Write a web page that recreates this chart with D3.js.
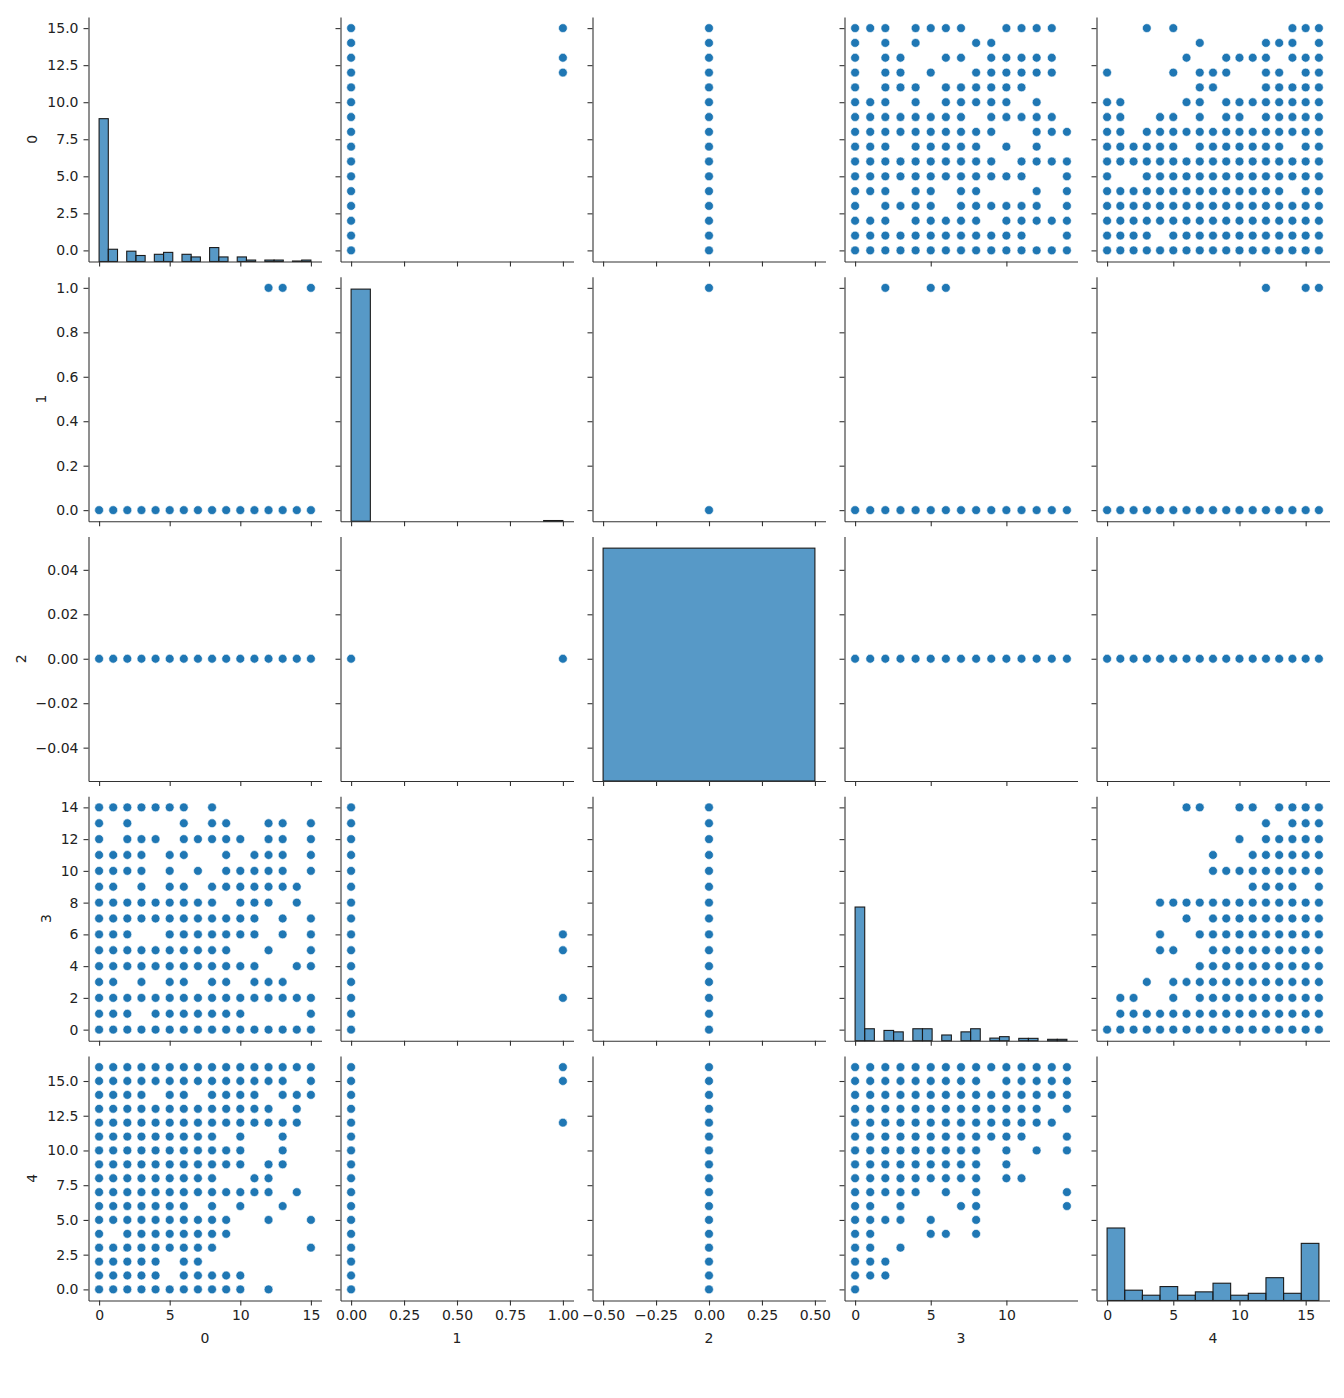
<!DOCTYPE html>
<html>
<head>
<meta charset="utf-8">
<script src="https://cdn.jsdelivr.net/npm/d3@7"></script>
<style>
  body { margin: 0; background: #fff; }
  text { font-family: "DejaVu Sans", sans-serif; }
</style>
</head>
<body>
<svg id="chart" width="1344" height="1398"></svg>
<script>
var varNames = ["0", "1", "2", "3", "4"];

// distinct levels that occur in each column
var v0Levels = [0, 1, 2, 3, 4, 5, 6, 7, 8, 9, 10, 11, 12, 13, 14, 15];
var v1Levels = [0, 1];
var v3Levels = [0, 1, 2, 3, 4, 5, 6, 7, 8, 9, 10, 11, 12, 13, 14];
var v4Levels = [0, 1, 2, 3, 4, 5, 6, 7, 8, 9, 10, 11, 12, 13, 14, 15, 16];

// the few rows where column 1 is 1
var v0WhereV1 = [12, 13, 15];
var v3WhereV1 = [2, 5, 6];
var v4WhereV1 = [12, 15, 16];

// column 3 level -> column 0 values seen with it
var pairs30 = [
  [14, [0, 1, 2, 3, 4, 5, 6, 8]],
  [13, [0, 2, 6, 8, 9, 12, 13, 15]],
  [12, [0, 2, 3, 4, 6, 7, 8, 9, 10, 12, 13, 15]],
  [11, [0, 1, 2, 3, 5, 6, 9, 11, 12, 13, 15]],
  [10, [0, 1, 2, 3, 5, 7, 9, 10, 11, 12, 13, 15]],
  [9, [0, 1, 3, 5, 6, 8, 9, 10, 11, 12, 13, 14]],
  [8, [0, 1, 2, 3, 4, 5, 6, 7, 8, 10, 11, 12, 14]],
  [7, [0, 1, 2, 3, 4, 5, 6, 7, 8, 9, 10, 11, 13, 15]],
  [6, [0, 1, 2, 5, 6, 7, 8, 9, 10, 11, 13, 15]],
  [5, [0, 1, 2, 3, 4, 5, 6, 7, 8, 9, 12, 15]],
  [4, [0, 1, 2, 3, 4, 5, 6, 7, 8, 9, 10, 11, 14, 15]],
  [3, [0, 1, 3, 5, 6, 8, 9, 11, 12, 13]],
  [2, [0, 1, 2, 3, 4, 5, 6, 7, 8, 9, 10, 11, 12, 13, 14, 15]],
  [1, [0, 1, 2, 4, 5, 6, 7, 8, 9, 10, 15]],
  [0, [0, 1, 2, 3, 4, 5, 6, 7, 8, 9, 10, 11, 12, 13, 14, 15]]
];

// column 0 level -> column 4 values seen with it
var pairs04 = [
  [15, [3, 5, 14, 15, 16]],
  [14, [7, 12, 13, 14, 16]],
  [13, [6, 9, 10, 11, 12, 14, 15, 16]],
  [12, [0, 5, 7, 8, 9, 12, 13, 15, 16]],
  [11, [7, 8, 12, 13, 14, 15, 16]],
  [10, [0, 1, 6, 7, 9, 10, 11, 12, 13, 14, 15, 16]],
  [9, [0, 1, 4, 5, 7, 9, 10, 12, 13, 14, 15, 16]],
  [8, [0, 1, 3, 4, 5, 6, 7, 8, 9, 10, 11, 12, 13, 14, 15, 16]],
  [7, [0, 1, 2, 3, 4, 5, 7, 8, 9, 10, 11, 12, 13, 15, 16]],
  [6, [0, 1, 2, 3, 4, 5, 6, 7, 8, 9, 10, 11, 12, 13, 14, 15, 16]],
  [5, [0, 3, 4, 5, 6, 7, 8, 9, 10, 11, 12, 13, 14, 15, 16]],
  [4, [0, 1, 2, 3, 4, 5, 6, 7, 8, 9, 10, 11, 12, 13, 15, 16]],
  [3, [0, 1, 2, 3, 4, 5, 6, 7, 8, 9, 10, 11, 12, 13, 14, 15, 16]],
  [2, [0, 1, 2, 3, 4, 5, 6, 7, 8, 9, 10, 11, 12, 13, 14, 15, 16]],
  [1, [0, 1, 2, 3, 5, 6, 7, 8, 9, 10, 11, 12, 13, 14, 15, 16]],
  [0, [0, 1, 2, 3, 4, 5, 6, 7, 8, 9, 10, 11, 12, 13, 14, 15, 16]]
];

// column 3 level -> column 4 values seen with it
var pairs34 = [
  [14, [6, 7, 10, 11, 13, 14, 15, 16]],
  [13, [12, 14, 15, 16]],
  [12, [10, 12, 13, 14, 15, 16]],
  [11, [8, 11, 12, 13, 14, 15, 16]],
  [10, [8, 9, 10, 11, 12, 13, 14, 15, 16]],
  [9, [11, 12, 13, 14, 16]],
  [8, [4, 5, 6, 7, 8, 9, 10, 11, 12, 13, 14, 15, 16]],
  [7, [6, 8, 9, 10, 11, 12, 13, 14, 15, 16]],
  [6, [4, 7, 8, 9, 10, 11, 12, 13, 14, 15, 16]],
  [5, [4, 5, 8, 9, 10, 11, 12, 13, 14, 15, 16]],
  [4, [7, 8, 9, 10, 11, 12, 13, 14, 15, 16]],
  [3, [3, 5, 6, 7, 8, 9, 10, 11, 12, 13, 14, 15, 16]],
  [2, [1, 2, 5, 7, 8, 9, 10, 11, 12, 13, 14, 15, 16]],
  [1, [1, 2, 3, 4, 5, 6, 7, 8, 9, 10, 11, 12, 13, 14, 15, 16]],
  [0, [0, 1, 2, 3, 4, 5, 6, 7, 8, 9, 10, 11, 12, 13, 14, 15, 16]]
];

// histogram counts, equal-width bins over histRange
var hist0 = [595, 51, 0, 43, 25, 0, 30, 38, 0, 30, 19, 0, 58, 19, 0, 19, 6, 0, 6, 6, 0, 2, 6];
var hist1 = [967, 0, 0, 0, 0, 0, 0, 0, 0, 0, 3];
var hist2 = [970];
var hist3 = [557, 50, 0, 43, 37, 0, 50, 50, 0, 24, 0, 37, 50, 0, 11, 17, 0, 10, 10, 0, 6, 6];
var hist4 = [302, 43, 22, 58, 22, 36, 72, 22, 30, 95, 30, 238];
var histRange = [[0, 15], [0, 1], [-0.5, 0.5], [0, 14], [0, 16]];

// tick labels
var xTicks = [[0, 5, 10, 15], [0, 0.25, 0.5, 0.75, 1], [-0.5, -0.25, 0, 0.25, 0.5], [0, 5, 10], [0, 5, 10, 15]];
var yTicks = [[0, 2.5, 5, 7.5, 10, 12.5, 15], [0, 0.2, 0.4, 0.6, 0.8, 1], [-0.04, -0.02, 0, 0.02, 0.04],
  [0, 2, 4, 6, 8, 10, 12, 14], [0, 2.5, 5, 7.5, 10, 12.5, 15]];
var xFormats = ["d", ".2f", ".2f", "d", "d"];
var yFormats = [".1f", ".1f", ".2f", "d", ".1f"];

var hists = [hist0, hist1, hist2, hist3, hist4];

(function() {
  // ---- pair lists keyed "a-b" (a < b), values as [va, vb] ----
  function fromGrid(grid, swap) {
    var out = [];
    grid.forEach(function(row) {
      row[1].forEach(function(v) {
        out.push(swap ? [v, row[0]] : [row[0], v]);
      });
    });
    return out;
  }
  function withOnes(levels, ones) {
    return levels.map(function(v) { return [0, v]; })
      .concat(ones.map(function(v) { return [1, v]; }));
  }
  var pairs = {
    "0-1": withOnes(v0Levels, v0WhereV1).map(function(p) { return [p[1], p[0]]; }),
    "0-2": v0Levels.map(function(v) { return [v, 0]; }),
    "0-3": fromGrid(pairs30, true),
    "0-4": fromGrid(pairs04, false),
    "1-2": v1Levels.map(function(v) { return [v, 0]; }),
    "1-3": withOnes(v3Levels, v3WhereV1),
    "1-4": withOnes(v4Levels, v4WhereV1),
    "2-3": v3Levels.map(function(v) { return [0, v]; }),
    "2-4": v4Levels.map(function(v) { return [0, v]; }),
    "3-4": fromGrid(pairs34, false)
  };
  function getPoints(xv, yv) {
    if (xv < yv) return pairs[xv + "-" + yv];
    return pairs[yv + "-" + xv].map(function(p) { return [p[1], p[0]]; });
  }

  // ---- layout ----
  var originX = 88.5, originY = 17, colStep = 252, rowStep = 259.75, panelW = 233, panelH = 244.5;
  var blue = "#1f77b4", ink = "#222";

  function pad(r) { var s = r[1] - r[0]; return [r[0] - 0.05 * s, r[1] + 0.05 * s]; }
  var xDomains = histRange.map(pad);
  var yDomains = histRange.map(pad);
  yDomains[2] = [-0.055, 0.055];

  var histMax = d3.max(hists, function(h) { return d3.max(h); });
  var hy = d3.scaleLinear().domain([0, histMax * 1.05]).range([panelH, 0]);

  var svg = d3.select("#chart");
  svg.append("rect").attr("width", 1344).attr("height", 1398).attr("fill", "#fff");

  function styleAxis(g) {
    g.selectAll("path, line").attr("stroke", "#333").attr("stroke-width", 1.1);
    g.selectAll("text").attr("fill", ink).style("font-size", "14px").style("font-family", "DejaVu Sans");
  }

  varNames.forEach(function(rowName, i) {
    varNames.forEach(function(colName, j) {
      var px = originX + j * colStep, py = originY + i * rowStep;
      var g = svg.append("g").attr("transform", "translate(" + px + "," + py + ")");
      var x = d3.scaleLinear().domain(xDomains[j]).range([0, panelW]);
      var y = d3.scaleLinear().domain(yDomains[i]).range([panelH, 0]);

      if (i === j) {
        var counts = hists[i], r = histRange[i], w = (r[1] - r[0]) / counts.length;
        var bins = counts.map(function(c, k) { return { x0: r[0] + k * w, x1: r[0] + (k + 1) * w, n: c }; })
          .filter(function(b) { return b.n > 0; });
        g.selectAll("rect.bar").data(bins).enter().append("rect")
          .attr("class", "bar")
          .attr("x", function(b) { return x(b.x0); })
          .attr("width", function(b) { return x(b.x1) - x(b.x0); })
          .attr("y", function(b) { return hy(b.n); })
          .attr("height", function(b) { return panelH - hy(b.n); })
          .attr("fill", blue).attr("fill-opacity", 0.75)
          .attr("stroke", "#1a1a1a").attr("stroke-width", 1.1);
      } else {
        g.selectAll("circle").data(getPoints(j, i)).enter().append("circle")
          .attr("cx", function(p) { return x(p[0]); })
          .attr("cy", function(p) { return y(p[1]); })
          .attr("r", 4.4)
          .attr("fill", blue)
          .attr("stroke", "#fff").attr("stroke-width", 0.6);
      }

      var yAxis = d3.axisLeft(y).tickValues(yTicks[i]).tickSize(5).tickSizeOuter(0).tickPadding(5)
        .tickFormat(j === 0 ? d3.format(yFormats[i]) : function() { return ""; });
      var ya = g.append("g").call(yAxis).call(styleAxis);

      var xAxis = d3.axisBottom(x).tickValues(xTicks[j]).tickSize(5).tickSizeOuter(0).tickPadding(5)
        .tickFormat(i === 4 ? d3.format(xFormats[j]) : function() { return ""; });
      g.append("g").attr("transform", "translate(0," + panelH + ")").call(xAxis).call(styleAxis);

      if (j === 0) {
        var bb = ya.node().getBBox();
        svg.append("text")
          .attr("transform", "translate(" + (px + bb.x - 15) + "," + (py + panelH / 2) + ") rotate(-90)")
          .attr("text-anchor", "middle").attr("dy", "0.35em")
          .attr("fill", ink).style("font-size", "14px")
          .text(rowName);
      }
      if (i === 4) {
        svg.append("text")
          .attr("x", px + panelW / 2).attr("y", 1338)
          .attr("text-anchor", "middle").attr("dy", "0.35em")
          .attr("fill", ink).style("font-size", "14px")
          .text(colName);
      }
    });
  });
}).call(this);
</script>
</body>
</html>
